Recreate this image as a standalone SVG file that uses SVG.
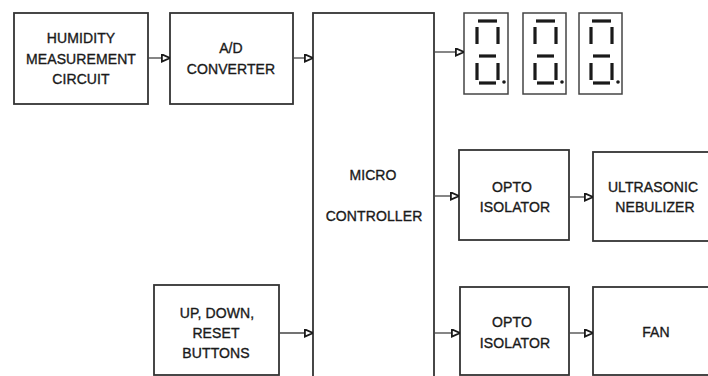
<svg xmlns="http://www.w3.org/2000/svg" width="708" height="376" viewBox="0 0 708 376">
<defs>
<style>
.box{fill:#fff;stroke:#333;stroke-width:1.8}
.disp{fill:#fff;stroke:#444;stroke-width:1.5}
.seg{stroke:#1a1a1a;stroke-width:3.2;stroke-linecap:butt}
.dp{fill:#1a1a1a}
.lbl{font-family:"Liberation Sans",Arial,sans-serif;font-size:14px;fill:#1a1a1a;stroke:#1a1a1a;stroke-width:0.35;text-anchor:middle;letter-spacing:0.1px}
.wire{stroke:#444;stroke-width:1.3;fill:none;marker-end:url(#arr)}
</style>
<marker id="arr" viewBox="0 0 10 10" refX="10" refY="5" markerWidth="9" markerHeight="9" markerUnits="userSpaceOnUse" orient="auto">
<path d="M1,1 L10,5 L1,9 Z" fill="#fff" stroke="#1a1a1a" stroke-width="2"/>
</marker>
<g id="digit">
<line class="seg" x1="14" y1="8" x2="33" y2="8"/>
<line class="seg" x1="13" y1="14" x2="13" y2="31"/>
<line class="seg" x1="34" y1="14" x2="34" y2="31"/>
<line class="seg" x1="15" y1="43" x2="32" y2="43"/>
<line class="seg" x1="13" y1="50" x2="13" y2="67"/>
<line class="seg" x1="34" y1="50" x2="34" y2="67"/>
<line class="seg" x1="15" y1="70" x2="32" y2="70"/>
<circle class="dp" cx="40" cy="69" r="1.8"/>
</g>
</defs>
<rect width="708" height="376" fill="#fff"/>
<g id="humidity">
<rect class="box" x="14" y="13" width="134" height="91"/>
<text class="lbl" x="81" y="43">HUMIDITY</text>
<text class="lbl" x="81" y="64">MEASUREMENT</text>
<text class="lbl" x="81" y="84">CIRCUIT</text>
</g>
<g id="adc">
<rect class="box" x="170" y="13" width="123" height="91"/>
<text class="lbl" x="231" y="53">A/D</text>
<text class="lbl" x="231" y="74">CONVERTER</text>
</g>
<g id="micro">
<rect class="box" x="313" y="13" width="121" height="370"/>
<text class="lbl" x="373" y="180">MICRO</text>
<text class="lbl" x="374" y="221">CONTROLLER</text>
</g>
<g id="display1">
<rect class="disp" x="464" y="13" width="44" height="81"/>
<use href="#digit" x="464" y="13"/>
</g>
<g id="display2">
<rect class="disp" x="523" y="13" width="43" height="81"/>
<use href="#digit" x="522" y="13"/>
</g>
<g id="display3">
<rect class="disp" x="579" y="13" width="43" height="81"/>
<use href="#digit" x="578" y="13"/>
</g>
<g id="opto1">
<rect class="box" x="459" y="150" width="110" height="90"/>
<text class="lbl" x="512" y="192">OPTO</text>
<text class="lbl" x="515" y="212">ISOLATOR</text>
</g>
<g id="nebulizer">
<rect class="box" x="593" y="152" width="130" height="89"/>
<text class="lbl" x="653" y="192">ULTRASONIC</text>
<text class="lbl" x="655" y="212">NEBULIZER</text>
</g>
<g id="buttons">
<rect class="box" x="154" y="285" width="125" height="90"/>
<text class="lbl" x="217" y="318">UP, DOWN,</text>
<text class="lbl" x="216" y="338">RESET</text>
<text class="lbl" x="216" y="358">BUTTONS</text>
</g>
<g id="opto2">
<rect class="box" x="460" y="287" width="109" height="88"/>
<text class="lbl" x="512" y="327">OPTO</text>
<text class="lbl" x="515" y="348">ISOLATOR</text>
</g>
<g id="fan">
<rect class="box" x="593" y="287" width="130" height="88"/>
<text class="lbl" x="656" y="337">FAN</text>
</g>
<g id="connectors">
<line class="wire" x1="148" y1="58" x2="170" y2="58"/>
<line class="wire" x1="293" y1="58" x2="313" y2="58"/>
<line class="wire" x1="434" y1="52" x2="464" y2="52"/>
<line class="wire" x1="434" y1="196" x2="459" y2="196"/>
<line class="wire" x1="569" y1="197" x2="593" y2="197"/>
<line class="wire" x1="279" y1="333" x2="313" y2="333"/>
<line class="wire" x1="434" y1="333" x2="460" y2="333"/>
<line class="wire" x1="569" y1="333" x2="593" y2="333"/>
</g>
</svg>
